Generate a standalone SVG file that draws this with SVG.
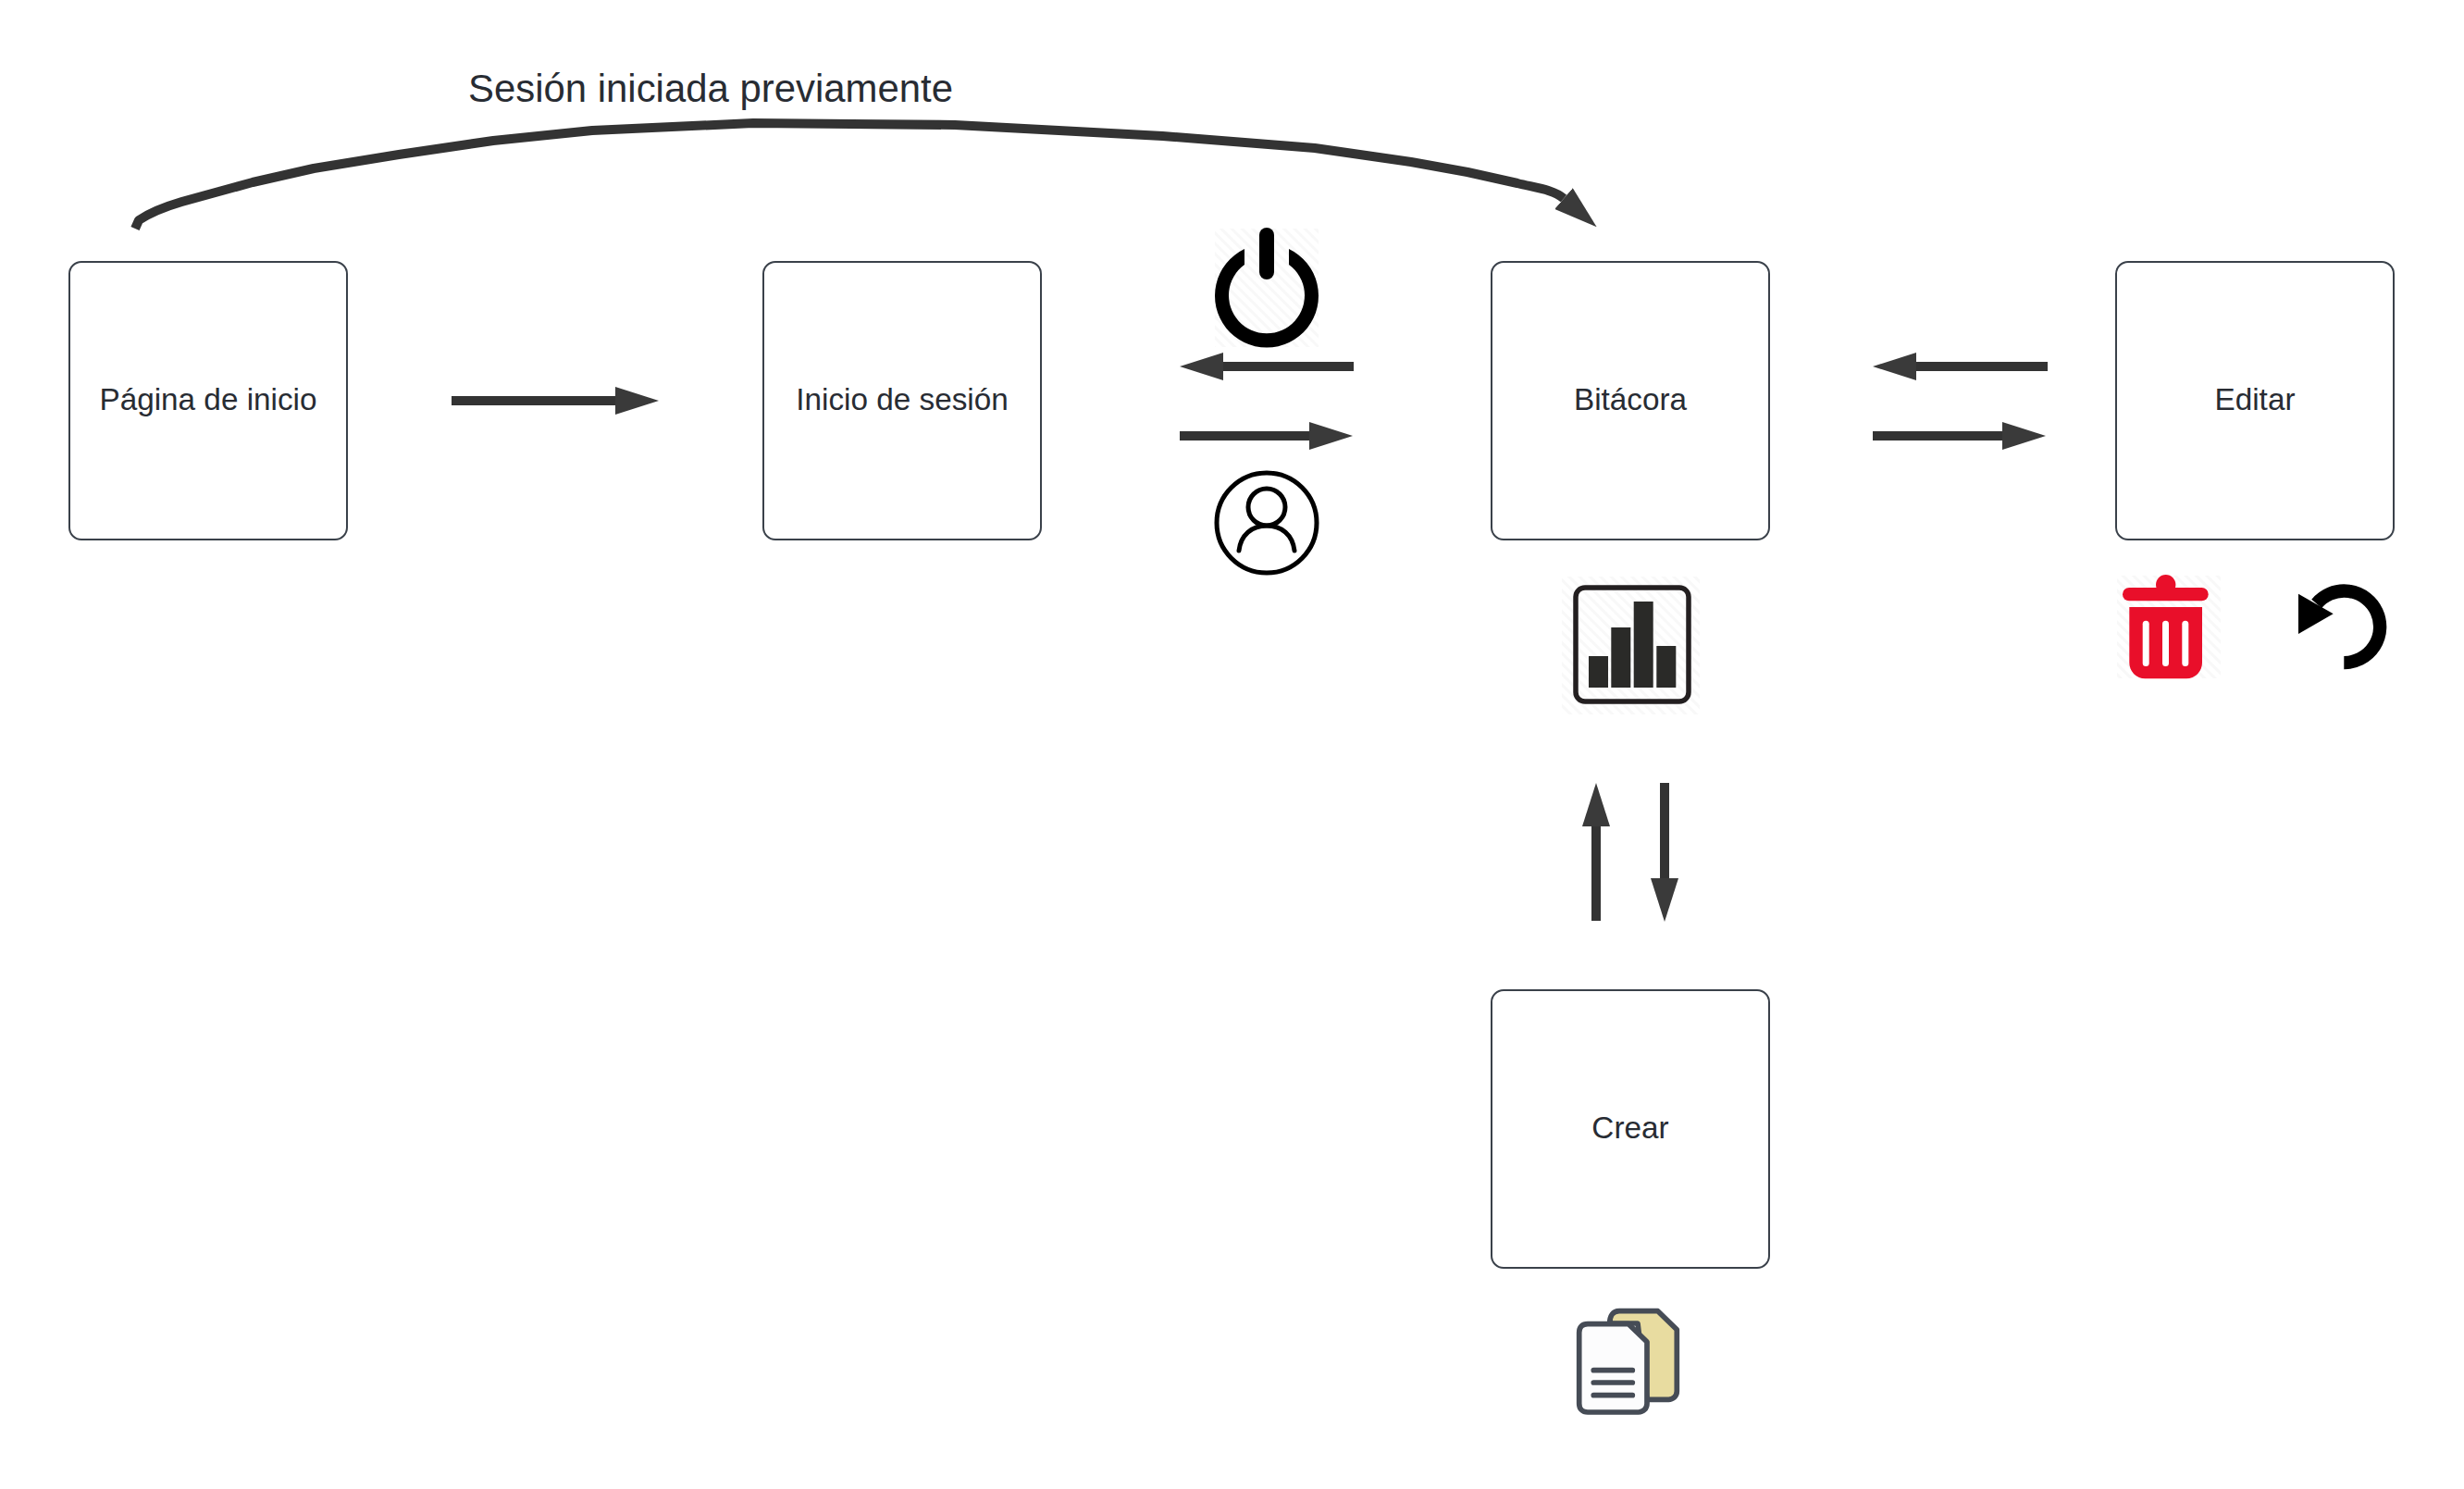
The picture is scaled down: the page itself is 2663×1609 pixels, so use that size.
<svg xmlns="http://www.w3.org/2000/svg" width="2663" height="1609" viewBox="0 0 2663 1609">
<style>
.box{fill:#fff;stroke:#3a414a;stroke-width:2}
.lbl{font-family:"Liberation Sans",Arial,sans-serif;font-size:33.3px;fill:#282c33;text-anchor:middle}
.title{font-family:"Liberation Sans",Arial,sans-serif;font-size:41.9px;fill:#282c33}
.conn{fill:none;stroke:#333;stroke-width:10;marker-end:url(#head)}
</style>
<defs>
<marker id="head" markerUnits="userSpaceOnUse" markerWidth="47" markerHeight="30" refX="0" refY="15" orient="auto"><polygon points="0,0 47,15 0,30" fill="#3a3a3a"/></marker>
<pattern id="hatch" patternUnits="userSpaceOnUse" width="8" height="8" patternTransform="rotate(45)"><rect width="8" height="8" fill="#fff"/><rect width="8" height="3" fill="#f8f8f8"/></pattern>
</defs>
<rect width="2663" height="1609" fill="#fff"/>
<g id="connectors">
<path class="conn" stroke-linejoin="round" d="M146 247 L150 238 Q166 227 196.5 218 L273 197 L339 182 L431 167 L533 152 L640 141 L814 133 L920 134 L1032 135 L1256.5 147 L1421 160 L1525 175 L1586 186 L1640 198 C1660 203 1678.6 204.7 1690 214.5"/>
<line class="conn" x1="488" y1="433" x2="665" y2="433"/>
<line class="conn" x1="1463" y1="396" x2="1322" y2="396"/>
<line class="conn" x1="1275" y1="471" x2="1415" y2="471"/>
<line class="conn" x1="2213" y1="396" x2="2071" y2="396"/>
<line class="conn" x1="2024" y1="471" x2="2164" y2="471"/>
<line class="conn" x1="1725" y1="995" x2="1725" y2="893"/>
<line class="conn" x1="1799" y1="846" x2="1799" y2="949"/>
</g>
<text id="edge-label" class="title" x="506" y="110">Sesión iniciada previamente</text>
<g id="node-inicio"><rect class="box" x="75" y="283" width="300" height="300" rx="13"/><text class="lbl" x="225" y="443">Página de inicio</text></g>
<g id="node-sesion"><rect class="box" x="825" y="283" width="300" height="300" rx="13"/><text class="lbl" x="975" y="443">Inicio de sesión</text></g>
<g id="node-bitacora"><rect class="box" x="1612" y="283" width="300" height="300" rx="13"/><text class="lbl" x="1762" y="443">Bitácora</text></g>
<g id="node-editar"><rect class="box" x="2287" y="283" width="300" height="300" rx="13"/><text class="lbl" x="2437" y="443">Editar</text></g>
<g id="node-crear"><rect class="box" x="1612" y="1070" width="300" height="300" rx="13"/><text class="lbl" x="1762" y="1230">Crear</text></g>
<g id="icon-power">
<rect x="1313" y="247" width="112" height="128" fill="url(#hatch)"/>
<path d="M1345 269 A56 56 0 1 0 1393 269 L1393 286 A41 41 0 1 1 1345 286 Z" fill="#000"/>
<rect x="1361" y="246" width="16" height="56" rx="8" fill="#000"/>
</g>
<g id="icon-user" fill="none" stroke="#000" stroke-width="5" stroke-linecap="round">
<circle cx="1369" cy="565" r="54"/>
<circle cx="1369" cy="548" r="20"/>
<path d="M1339 595 C1341 578 1353 568 1369 568 C1385 568 1397 578 1399 595"/>
</g>
<g id="icon-chart">
<rect x="1688" y="623" width="149" height="149" fill="url(#hatch)"/>
<rect x="1703" y="635" width="122" height="123" rx="10" fill="none" stroke="#231f20" stroke-width="5.5"/>
<g fill="#2a2a28">
<rect x="1717" y="709" width="21" height="34"/>
<rect x="1741.3" y="678" width="21" height="65"/>
<rect x="1765.7" y="650" width="21" height="93"/>
<rect x="1790.3" y="698" width="21" height="45"/>
</g>
</g>
<g id="icon-trash">
<rect x="2288" y="622" width="112" height="111" fill="url(#hatch)"/>
<g fill="#e90f2a">
<circle cx="2340.7" cy="631.7" r="10.7"/>
<rect x="2294" y="635" width="92.7" height="14.3" rx="7.1"/>
<path d="M2301.3 656 H2380 V716 A17 17 0 0 1 2363 733.3 H2318.3 A17 17 0 0 1 2301.3 716 Z"/>
</g>
<g fill="#fff">
<rect x="2315.7" y="670.7" width="7" height="49.3" rx="3.5"/>
<rect x="2337" y="670.7" width="7" height="49.3" rx="3.5"/>
<rect x="2358.3" y="670.7" width="7" height="49.3" rx="3.5"/>
</g>
</g>
<g id="icon-undo">
<path d="M2533.3 716.1 A38.8 38.8 0 1 0 2503.7 652.3" fill="none" stroke="#000" stroke-width="14.3"/>
<polygon points="2484,641.7 2484,685 2521.7,663.3" fill="#000"/>
</g>
<g id="icon-docs" stroke="#464c56" stroke-width="5.7" stroke-linejoin="round">
<path d="M1739.7 1430 C1739.7 1422 1743 1416.7 1750 1416.7 H1791.7 L1812.3 1436.7 V1503.3 C1812.3 1509 1808 1512.3 1803.3 1512.3 H1780 L1770 1430 Z" fill="#e8dca0"/>
<path d="M1706.7 1440 C1706.7 1434 1710 1430.7 1716 1430.7 H1760 L1780 1450 V1516.7 C1780 1522 1776 1526 1770.7 1526 H1716 C1710 1526 1706.7 1522 1706.7 1516.7 Z" fill="#fcfcfd"/>
<path d="M1722.3 1480.7 H1764.3 M1722.3 1494 H1764.3 M1722.3 1507.7 H1764.3" fill="none" stroke-linecap="round"/>
</g>
</svg>
